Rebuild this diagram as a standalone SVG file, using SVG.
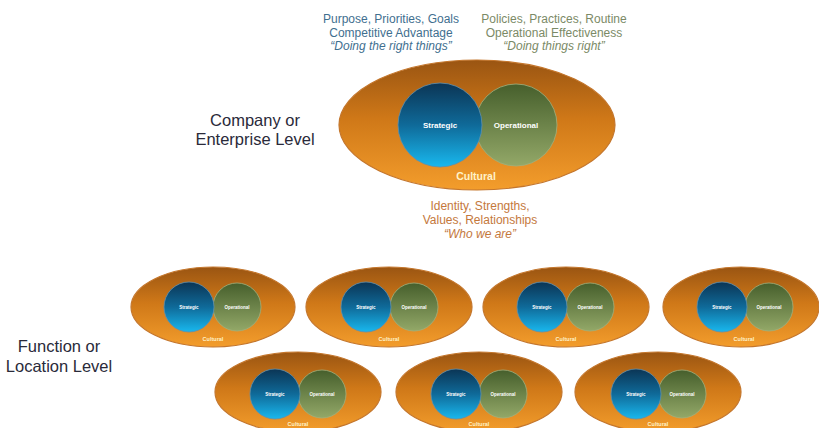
<svg xmlns="http://www.w3.org/2000/svg" width="819" height="428" viewBox="0 0 819 428">
<defs>
<linearGradient id="gOuter" x1="0" y1="0" x2="0" y2="1">
<stop offset="0" stop-color="#9a5512"/>
<stop offset="0.45" stop-color="#cf7818"/>
<stop offset="1" stop-color="#f39d2c"/>
</linearGradient>
<linearGradient id="gStrat" x1="0" y1="0" x2="0" y2="1">
<stop offset="0" stop-color="#0b3555"/>
<stop offset="0.5" stop-color="#0f6a99"/>
<stop offset="1" stop-color="#19b8ee"/>
</linearGradient>
<linearGradient id="gOper" x1="0" y1="0" x2="0" y2="1">
<stop offset="0" stop-color="#465f2c"/>
<stop offset="1" stop-color="#93a868"/>
</linearGradient>
</defs>
<style>
.outer{fill:url(#gOuter);stroke:#c4762c;stroke-width:1.2}
.strat{fill:url(#gStrat);stroke:#5c8fb0;stroke-width:0.8}
.oper{fill:url(#gOper);stroke:#9fb07e;stroke-width:0.8}
.lbl{font-family:"Liberation Sans",Arial,sans-serif;fill:#2a2a3a;text-anchor:middle;font-size:16.5px}
.t{font-family:"Liberation Sans",Arial,sans-serif;text-anchor:middle;font-size:12px}
.blue{fill:#3f6f8f}
.green{fill:#7b8a66}
.orange{fill:#c4783c}
.it{font-style:italic}
.in{font-family:"Liberation Sans",Arial,sans-serif;text-anchor:middle;fill:#ffffff;font-weight:bold}
.cul{fill:#fff2c8}
.big{font-size:8px}
.bigc{font-size:10.5px}
.sm{font-size:4.5px}
.smc{font-size:5.5px}
</style>

<g id="labels">
<text class="lbl" x="255" y="126">Company or</text>
<text class="lbl" x="255" y="145">Enterprise Level</text>
<text class="lbl" x="59" y="352">Function or</text>
<text class="lbl" x="59" y="372">Location Level</text>
</g>

<g id="top-notes">
<text class="t blue" x="391" y="23">Purpose, Priorities, Goals</text>
<text class="t blue" x="391" y="37">Competitive Advantage</text>
<text class="t blue it" x="391" y="50">“Doing the right things”</text>
<text class="t green" x="554" y="23">Policies, Practices, Routine</text>
<text class="t green" x="554" y="37">Operational Effectiveness</text>
<text class="t green it" x="554" y="50">“Doing things right”</text>
</g>

<g id="company">
<ellipse class="outer" cx="477" cy="125" rx="138" ry="65"/>
<circle class="oper" cx="516" cy="125" r="41"/>
<circle class="strat" cx="440" cy="125" r="42"/>
<text class="in big" x="440" y="128">Strategic</text>
<text class="in big" x="516" y="128">Operational</text>
<text class="in cul bigc" x="476" y="180">Cultural</text>
</g>

<g id="bottom-notes">
<text class="t orange" x="480" y="210">Identity, Strengths,</text>
<text class="t orange" x="480" y="224">Values, Relationships</text>
<text class="t orange it" x="480" y="238">“Who we are”</text>
</g>

<g id="unit1">
<ellipse class="outer" cx="213" cy="307" rx="82" ry="40"/>
<circle class="oper" cx="237" cy="307" r="24"/>
<circle class="strat" cx="189" cy="307" r="25"/>
<text class="in sm" x="189" y="309">Strategic</text>
<text class="in sm" x="237" y="309">Operational</text>
<text class="in cul smc" x="213" y="341">Cultural</text>
</g>
<g id="unit2">
<ellipse class="outer" cx="389" cy="307" rx="83" ry="40"/>
<circle class="oper" cx="414" cy="307" r="24"/>
<circle class="strat" cx="366" cy="307" r="25"/>
<text class="in sm" x="366" y="309">Strategic</text>
<text class="in sm" x="414" y="309">Operational</text>
<text class="in cul smc" x="389" y="341">Cultural</text>
</g>
<g id="unit3">
<ellipse class="outer" cx="566" cy="307" rx="83" ry="40"/>
<circle class="oper" cx="590" cy="307" r="24"/>
<circle class="strat" cx="542" cy="307" r="25"/>
<text class="in sm" x="542" y="309">Strategic</text>
<text class="in sm" x="590" y="309">Operational</text>
<text class="in cul smc" x="566" y="341">Cultural</text>
</g>
<g id="unit4">
<ellipse class="outer" cx="741" cy="307" rx="78" ry="40"/>
<circle class="oper" cx="769" cy="307" r="24"/>
<circle class="strat" cx="722" cy="307" r="25"/>
<text class="in sm" x="722" y="309">Strategic</text>
<text class="in sm" x="769" y="309">Operational</text>
<text class="in cul smc" x="744" y="341">Cultural</text>
</g>
<g id="unit5">
<ellipse class="outer" cx="298" cy="392" rx="83" ry="40"/>
<circle class="oper" cx="322" cy="394" r="24"/>
<circle class="strat" cx="275" cy="394" r="25"/>
<text class="in sm" x="275" y="396">Strategic</text>
<text class="in sm" x="322" y="396">Operational</text>
<text class="in cul smc" x="298" y="426">Cultural</text>
</g>
<g id="unit6">
<ellipse class="outer" cx="479" cy="392" rx="83" ry="40"/>
<circle class="oper" cx="503" cy="394" r="24"/>
<circle class="strat" cx="456" cy="394" r="25"/>
<text class="in sm" x="456" y="396">Strategic</text>
<text class="in sm" x="503" y="396">Operational</text>
<text class="in cul smc" x="479" y="426">Cultural</text>
</g>
<g id="unit7">
<ellipse class="outer" cx="658" cy="392" rx="83" ry="40"/>
<circle class="oper" cx="682" cy="394" r="24"/>
<circle class="strat" cx="636" cy="394" r="25"/>
<text class="in sm" x="636" y="396">Strategic</text>
<text class="in sm" x="682" y="396">Operational</text>
<text class="in cul smc" x="658" y="426">Cultural</text>
</g>
<g id="connectors"></g>
</svg>
